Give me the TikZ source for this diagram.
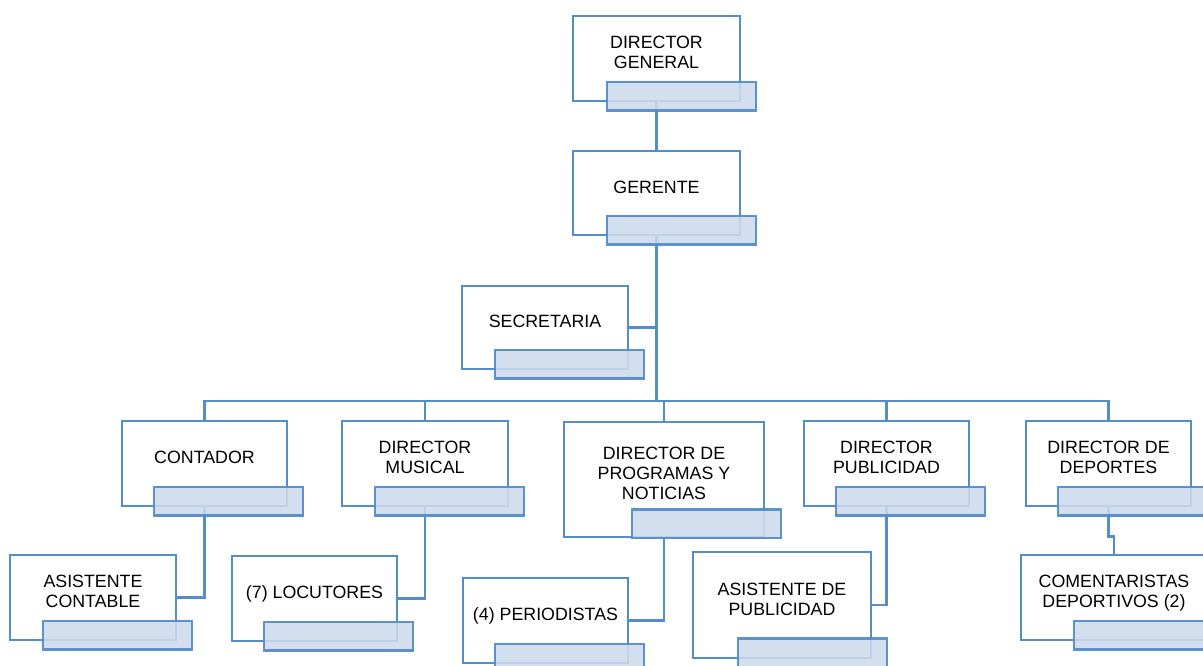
\documentclass[tikz,border=0pt]{standalone}
\usepackage{fontspec}
\setmainfont{Liberation Sans}
\definecolor{orgline}{RGB}{84,141,203}
\definecolor{orgfill}{RGB}{205,218,236}
\pgfdeclarelayer{links}
\pgfsetlayers{links,main}
\tikzset{
  unitbox/.style={draw=orgline, line width=2.8pt, fill=white, inner sep=0pt},
  tagbox/.style={draw=orgline, line width=2.8pt, fill=orgfill, fill opacity=0.88,
    draw opacity=0.95, minimum width=149pt, minimum height=28.5pt, inner sep=0pt,
    anchor=south east},
  unittext/.style={font=\fontsize{17.8}{20}\selectfont, align=center,
    text depth=0pt, inner sep=0pt},
  link/.style={draw=orgline, line width=2.8pt},
}
% #1 name, #2 cx, #3 cy, #4 width, #5 height, #6 tag x offset, #7 tag y offset, #8 text
\newcommand\orgunit[8]{%
  \node[unitbox, minimum width=#4pt, minimum height=#5pt] (#1) at (#2,#3) {};
  \node[tagbox] (#1-tag) at ([xshift=#6pt, yshift=-#7pt]#1.south east) {};
  \node[unittext, yshift=6pt] (#1-text) at (#1) {#8};
}
\begin{document}
\begin{tikzpicture}[x=1pt, y=-1pt]
\useasboundingbox (0,0) rectangle (1203,666);
\clip (0,0) rectangle (1203,666);

% top levels
\orgunit{dg}{656.5}{58.5}{167}{85}{16}{9.5}{DIRECTOR\\GENERAL}
\orgunit{ger}{656.5}{193}{167}{84}{16}{9.5}{GERENTE}
\orgunit{sec}{545}{327.5}{166}{83}{16}{9.5}{SECRETARIA}

% directors
\orgunit{con}{204.5}{463.5}{165}{85}{16}{9.5}{CONTADOR}
\orgunit{mus}{425}{463.5}{166}{85}{16}{9.5}{DIRECTOR\\MUSICAL}
\orgunit{prog}{664}{479.5}{200}{115}{17}{1}{DIRECTOR DE\\PROGRAMAS Y\\NOTICIAS}
\orgunit{pub}{886.5}{463.5}{165}{85}{16}{9.5}{DIRECTOR\\PUBLICIDAD}
\orgunit{dep}{1108.5}{463.5}{165}{85}{16}{9.5}{DIRECTOR DE\\DEPORTES}

% staff
\orgunit{asc}{93}{597.5}{166}{85}{16}{9.5}{ASISTENTE\\CONTABLE}
\orgunit{loc}{314.5}{598.5}{165}{85}{16}{9.5}{(7) LOCUTORES}
\orgunit{per}{545.5}{620.5}{165}{85}{16}{9.5}{(4) PERIODISTAS}
\orgunit{apu}{782}{605}{178}{106}{16}{9}{ASISTENTE DE\\PUBLICIDAD}
\orgunit{com}{1114}{597.5}{186}{85}{16}{9.5}{COMENTARISTAS\\DEPORTIVOS (2)}

\coordinate (busy) at (0,401);

\begin{pgfonlayer}{links}
  \draw[link] (dg.south) -- (ger.north);
  \draw[link] (ger.south) -- (ger.south |- busy);
  \draw[link] (sec.east) -- (sec.east -| ger.south);
  \draw[link] (con.north) |- (dep.north |- busy) -- (dep.north);
  \foreach \n in {mus,prog,pub}
    \draw[link] (\n.north) -- (\n.north |- busy);
  \draw[link] (con.south) |- (asc.east);
  \draw[link] (mus.south) |- (loc.east);
  \draw[link] (prog.south) |- (per.east);
  \draw[link] (pub.south) |- (apu.east);
  \draw[link] (dep.south) -- ++(0,29) -| (com.north);
\end{pgfonlayer}
\end{tikzpicture}
\end{document}
